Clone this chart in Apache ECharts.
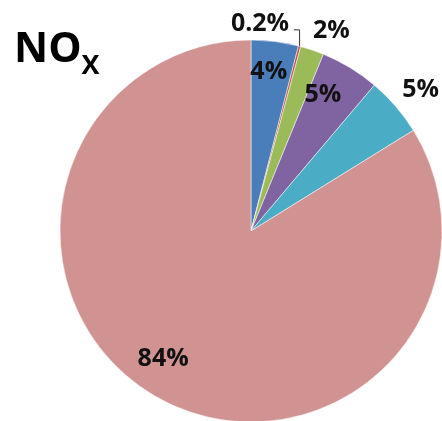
<!DOCTYPE html>
<html>
<head>
<meta charset="utf-8">
<script src="https://cdn.jsdelivr.net/npm/echarts@6/dist/echarts.min.js"></script>
<style>
html, body { margin: 0; padding: 0; background: #fff; }
#main { width: 442px; height: 421px; }
</style>
</head>
<body>
<div id="main"></div>
<script>
var labels = ['4%', '0.2%', '2%', '5%', '5%', '84%'];
var values = [4, 0.2, 2, 5, 5, 84];
var colors = ['#4A7EBB', '#C0504D', '#9BBB59', '#8064A2', '#4BACC6', '#D09392'];
var outside = [false, true, true, false, true, false];

var chart = echarts.init(document.getElementById('main'));

var fontFamily = '"Open Sans", sans-serif';

// small nudges so labels sit where the original put them
var labelShift = {
	0: { 1: [-68, -6], 2: [-10, -2], 4: [-12, -5] },
	1: { 0: [-2, -2], 3: [-10, -1], 5: [-11, -10] }
};

function shiftLabel(params) {
	var s = labelShift[params.seriesIndex][params.dataIndex];
	if (s) {
		return { dx: s[0], dy: s[1] };
	}
}

var mainData = values.map(function(v, i) {
	return {
		value: v,
		name: labels[i],
		itemStyle: { color: colors[i] },
		label: { show: outside[i] },
		labelLine: i === 1 ? { show: true, length: 17, length2: -10 } : { show: false }
	};
});

var innerData = values.map(function(v, i) {
	return {
		value: v,
		name: labels[i],
		label: { show: !outside[i] }
	};
});

var option = {
	animation: false,
	title: {
		text: '{n|NO}{x|X}',
		left: 9,
		top: 24,
		textStyle: {
			rich: {
				n: { fontSize: 42, fontWeight: 'bold', fontFamily: fontFamily, color: '#000', lineHeight: 40, verticalAlign: 'top' },
				// subscript: pushed down by its top padding
				x: { fontSize: 27, fontWeight: 'bold', fontFamily: fontFamily, color: '#000', lineHeight: 30, verticalAlign: 'top', padding: [24, 0, 0, 0] }
			}
		}
	},
	series: [{
		name: 'NOx',
		type: 'pie',
		center: [251, 231],
		radius: [0, 191],
		startAngle: 90,
		clockwise: true,
		avoidLabelOverlap: false,
		itemStyle: { borderColor: '#fff', borderWidth: 0.5 },
		label: {
			position: 'outside',
			formatter: '{b}',
			fontSize: 25,
			fontWeight: 'bold',
			fontFamily: fontFamily,
			color: '#111'
		},
		labelLine: {
			length: 18,
			length2: 0,
			lineStyle: { color: '#333', width: 1 }
		},
		labelLayout: shiftLabel,
		data: mainData
	}, {
		name: 'inner labels',
		type: 'pie',
		center: [251, 231],
		radius: [120, 190],
		startAngle: 90,
		clockwise: true,
		silent: true,
		itemStyle: { color: 'transparent' },
		label: {
			position: 'inside',
			formatter: '{b}',
			fontSize: 25,
			fontWeight: 'bold',
			fontFamily: fontFamily,
			color: '#111'
		},
		labelLine: { show: false },
		labelLayout: shiftLabel,
		data: innerData
	}]
};

chart.setOption(option);
</script>
</body>
</html>
